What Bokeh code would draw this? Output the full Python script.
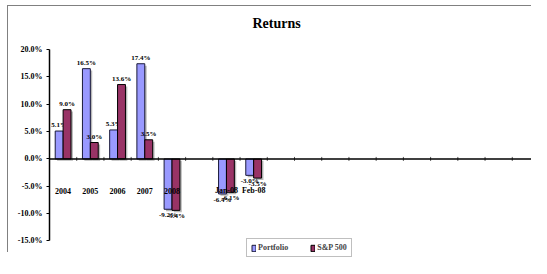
import numpy as np
from bokeh.plotting import figure
from bokeh.models import (Range1d, FixedTicker, PrintfTickFormatter, ColumnDataSource,
                          Legend, LegendItem, Span)
from bokeh.core.properties import value
from bokeh.embed import file_html
from bokeh.resources import INLINE

# ---- data ----
categories = ["2004", "2005", "2006", "2007", "2008", "", "Jan-08", "Feb-08",
              "", "", "", "", "", "", "", "", "", ""]
portfolio = [5.1, 16.5, 5.3, 17.4, -9.2, None, -6.4, -3.0] + [None] * 10
sp500 = [9.0, 3.0, 13.6, 3.5, -9.4, None, -6.1, -3.5] + [None] * 10
y_ticks = [-15, -10, -5, 0, 5, 10, 15, 20]
series_names = ["Portfolio", "S&P 500"]
series_colors = ["#9999FF", "#993366"]

FONT = "Liberation Serif"
W, H = 531, 252
BAR_W = 0.29
# frame extends a little above and below the axis (axis itself bounded to the ticks)
Y_BOTTOM = -18.2
Y_TOP = 22.38

n = len(categories)
p = figure(width=W, height=H, output_backend="svg", toolbar_location=None, tools="",
           x_range=Range1d(0, n), y_range=Range1d(Y_BOTTOM, Y_TOP),
           min_border_left=41, min_border_right=0, min_border_top=30, min_border_bottom=0)
# chart-area frame (left and top edges) drawn in the padding around the canvas
p.styles = {
    "padding-left": "8px", "padding-top": "6px",
    "background": ("linear-gradient(#808080,#808080) 7px 5px / 1px 100% no-repeat, "
                   "linear-gradient(#808080,#808080) 7px 5px / 100% 1px no-repeat, white"),
}

p.background_fill_color = "white"
p.border_fill_color = "white"
p.outline_line_color = None
p.xgrid.visible = False
p.ygrid.visible = False

# title
p.title.text = "Returns"
p.title.align = "left"
p.title.offset = 203
p.title.standoff = 12
p.title.text_font = FONT
p.title.text_font_size = "14px"
p.title.text_font_style = "bold"
p.title.text_color = "black"

# y axis
ya = p.yaxis[0]
ya.ticker = FixedTicker(ticks=y_ticks)
ya.bounds = (y_ticks[0], y_ticks[-1])
ya.formatter = PrintfTickFormatter(format="%.1f%%")
ya.major_label_text_font = FONT
ya.major_label_text_font_size = "8px"
ya.major_label_text_font_style = "bold"
ya.major_label_text_color = "black"
ya.major_tick_in = 0
ya.major_tick_out = 3
ya.minor_tick_line_color = None
ya.major_label_standoff = 4
ya.axis_line_width = 1.5
ya.major_tick_line_width = 1

# x axis drawn at zero: line + boundary ticks
p.xaxis.visible = False
p.add_layout(Span(location=0, dimension="width", line_color="black", line_width=1.5))
bounds = list(range(n + 1))
p.scatter(x=bounds, y=[0] * len(bounds), marker="dash", angle=np.pi / 2, size=4,
          line_color="#555555", line_width=1)

centers = np.arange(n) + 0.5
renderers = []
for k, (name, vals, col) in enumerate(zip(series_names, [portfolio, sp500], series_colors)):
    off = (k - 0.5) * BAR_W
    idx = [i for i, v in enumerate(vals) if v is not None]
    xs = [centers[i] + off for i in idx]
    vs = [vals[i] for i in idx]
    sh = ColumnDataSource(dict(x=[x + 0.07 for x in xs],
                               top=[v - 0.35 for v in vs],
                               bottom=[-0.35] * len(vs)))
    p.vbar(x="x", top="top", bottom="bottom", width=BAR_W, source=sh,
           fill_color="#b8b8b8", line_color=None)
for k, (name, vals, col) in enumerate(zip(series_names, [portfolio, sp500], series_colors)):
    off = (k - 0.5) * BAR_W
    idx = [i for i, v in enumerate(vals) if v is not None]
    xs = [centers[i] + off for i in idx]
    vs = [vals[i] for i in idx]
    src = ColumnDataSource(dict(x=xs, top=vs,
                                lbl=["%.1f%%" % v for v in vs],
                                yo=[-6 if v >= 0 else 6 for v in vs]))
    r = p.vbar(x="x", top="top", bottom=0, width=BAR_W, source=src,
               fill_color=col, line_color="#1a1a3a" if k == 0 else "#000000", line_width=1)
    renderers.append(r)
    p.text(x="x", y="top", text="lbl", y_offset="yo", source=src,
           text_font=value(FONT), text_font_size="7px", text_font_style="bold",
           text_align="center", text_baseline="middle", text_color="black")

# category labels
cat_src = ColumnDataSource(dict(x=centers, y=[0] * n, t=categories))
p.text(x="x", y="y", text="t", source=cat_src, y_offset=32,
       text_font=value(FONT), text_font_size="8px", text_font_style="bold",
       text_align="center", text_baseline="middle", text_color="black")

legend = Legend(items=[LegendItem(label=nm, renderers=[r]) for nm, r in zip(series_names, renderers)],
                orientation="horizontal", location=(197, 1),
                label_text_font=FONT, label_text_font_size="8px", label_text_font_style="bold",
                label_height=9, glyph_height=8, glyph_width=5, label_standoff=2,
                spacing=22, padding=4, margin=0,
                border_line_color="#808080", border_line_width=1,
                background_fill_color="white")
p.add_layout(legend, "center")

open("out.html", "w").write(file_html(p, INLINE))
